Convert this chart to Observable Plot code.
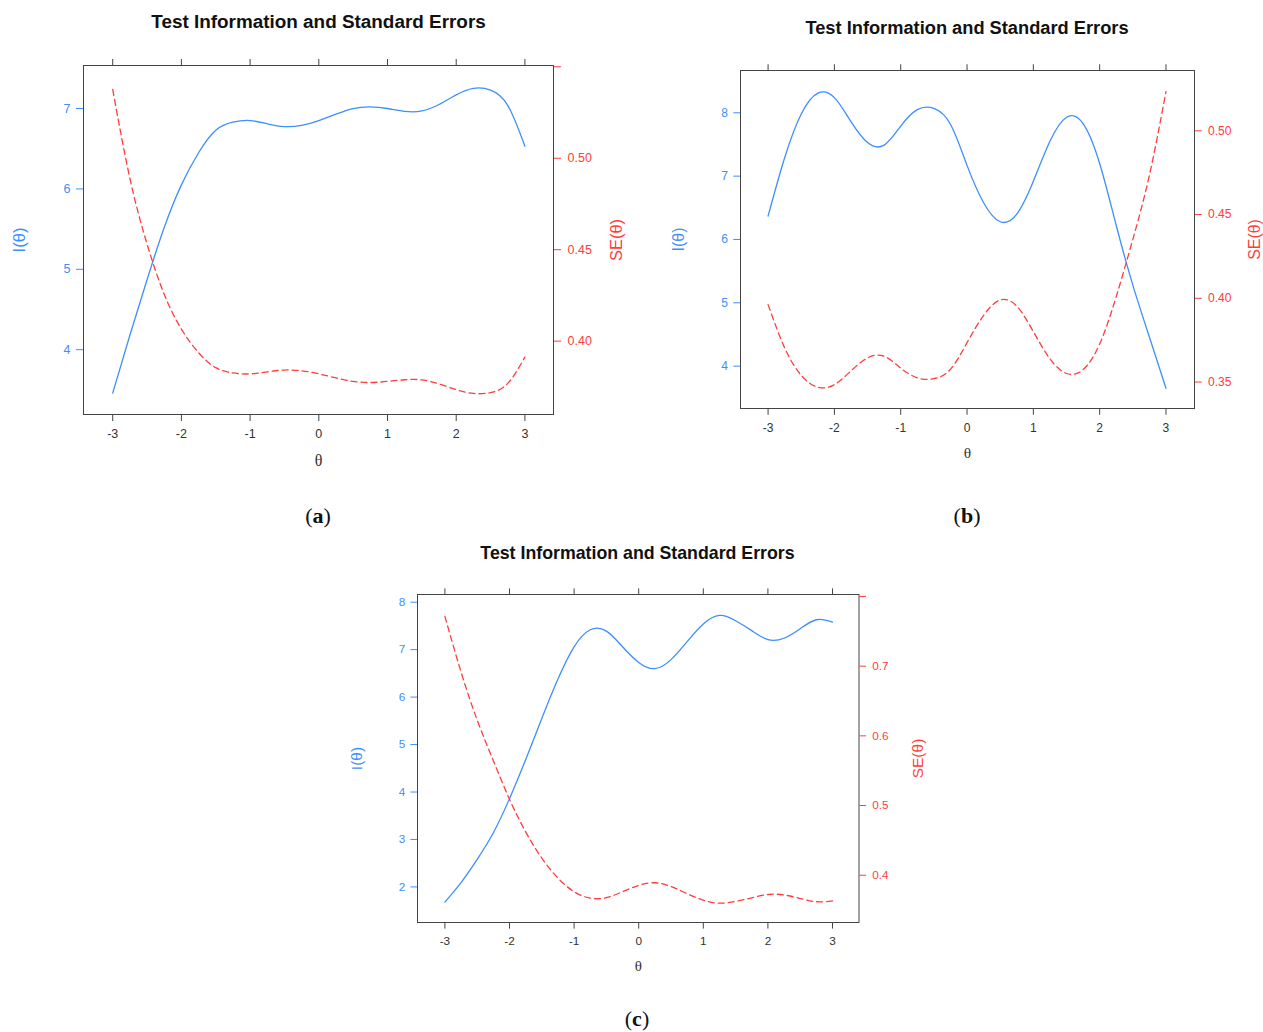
<!DOCTYPE html>
<html>
<head>
<meta charset="utf-8">
<script src="https://cdn.jsdelivr.net/npm/d3@7"></script>
<script src="https://cdn.jsdelivr.net/npm/@observablehq/plot@0.6"></script>
<style>
  body { margin: 0; background: #fff; }
  #root { position: relative; width: 1263px; height: 1032px; overflow: hidden; background: #fff; font-family: "Liberation Sans", Arial, sans-serif; }
  .title { position: absolute; font-weight: bold; transform: translate(-50%, -50%); white-space: nowrap; color: #111; }
  .tag { position: absolute; font-family: "Liberation Serif", "DejaVu Serif", serif; font-size: 22px; transform: translate(-50%, -50%); color: #111; }
  .layer { position: absolute; }
</style>
</head>
<body>
<div id="root"></div>
<script>
// ---------- data ----------
const theta = [-3, -2.75, -2.5, -2.25, -2, -1.75, -1.5, -1.25, -1, -0.75, -0.5, -0.25, 0,
               0.25, 0.5, 0.75, 1, 1.25, 1.5, 1.75, 2, 2.25, 2.5, 2.75, 3];

// panel (a)
const infoA = [3.46, 4.18, 4.87, 5.52, 6.05, 6.45, 6.73, 6.83, 6.85, 6.81, 6.775, 6.79, 6.85,
               6.93, 7.00, 7.02, 7.00, 6.965, 6.97, 7.05, 7.17, 7.25, 7.23, 7.04, 6.53];
const seA   = [0.5376, 0.4891, 0.4531, 0.4256, 0.4066, 0.3937, 0.3855, 0.3826, 0.3821, 0.3832, 0.3842, 0.3838, 0.3821,
               0.3799, 0.3780, 0.3774, 0.3780, 0.3789, 0.3788, 0.3766, 0.3735, 0.3714, 0.3719, 0.3769, 0.3913];

// panel (b)
const infoB = [6.37, 7.29, 7.98, 8.31, 8.24, 7.86, 7.53, 7.49, 7.79, 8.05, 8.07, 7.82, 7.17,
               6.58, 6.28, 6.40, 6.92, 7.55, 7.93, 7.83, 7.20, 6.22, 5.28, 4.46, 3.65];
const seB   = [0.3962, 0.3704, 0.3540, 0.3469, 0.3484, 0.3567, 0.3644, 0.3654, 0.3583, 0.3525, 0.3520, 0.3576, 0.3735,
               0.3898, 0.3990, 0.3953, 0.3801, 0.3639, 0.3551, 0.3574, 0.3727, 0.4010, 0.4352, 0.4735, 0.5234];

// panel (c)
const infoC = [1.68, 2.09, 2.58, 3.14, 3.86, 4.68, 5.55, 6.38, 7.06, 7.42, 7.39, 7.06, 6.73,
               6.60, 6.79, 7.17, 7.54, 7.72, 7.61, 7.40, 7.21, 7.24, 7.44, 7.63, 7.58];
const seC   = [0.7715, 0.6917, 0.6226, 0.5643, 0.5090, 0.4623, 0.4245, 0.3959, 0.3764, 0.3671, 0.3679, 0.3764, 0.3855,
               0.3892, 0.3838, 0.3735, 0.3642, 0.3599, 0.3625, 0.3676, 0.3724, 0.3717, 0.3666, 0.3620, 0.3632];

// ticks / labels
const xTicks = [-3, -2, -1, 0, 1, 2, 3];
const infoTicksA = [4, 5, 6, 7];
const seTicksA = [0.40, 0.45, 0.50, 0.55];
const infoTicksB = [4, 5, 6, 7, 8];
const seTicksB = [0.35, 0.40, 0.45, 0.50];
const infoTicksC = [2, 3, 4, 5, 6, 7, 8];
const seTicksC = [0.4, 0.5, 0.6, 0.7, 0.8];
const titleText = "Test Information and Standard Errors";
const xLabel = "θ";
const infoLabel = "I(θ)";
const seLabel = "SE(θ)";
const tags = ["a", "b", "c"];

// ---------- styling / layout ----------
const BLUE = "#3d8eff";
const RED = "#ff3d3d";
const FRAME = "#444";

const panels = [
  { info: infoA, se: seA, infoTicks: infoTicksA, seTicks: seTicksA,
    L: 83, R: 553, T: 65, B: 414, s: 1,
    xDomain: [-3.425, 3.416], infoDomain: [3.194, 7.535], seDomain: [0.3599, 0.5507],
    seFmt: d => d > 0.54 ? "" : d.toFixed(2),
    titleX: 318.5, titleY: 22, tagX: 318, tagY: 516, tag: tags[0] },
  { info: infoB, se: seB, infoTicks: infoTicksB, seTicks: seTicksB,
    L: 740, R: 1194, T: 70, B: 408, s: 0.966,
    xDomain: [-3.416, 3.43], infoDomain: [3.331, 8.668], seDomain: [0.3342, 0.536],
    seFmt: d => d.toFixed(2),
    titleX: 967, titleY: 28, tagX: 967, tagY: 516, tag: tags[1] },
  { info: infoC, se: seC, infoTicks: infoTicksC, seTicks: seTicksC,
    L: 416.5, R: 858, T: 594, B: 922, s: 0.94,
    xDomain: [-3.424, 3.41], infoDomain: [1.25, 8.162], seDomain: [0.3322, 0.8028],
    seFmt: d => d > 0.79 ? "" : d.toFixed(1),
    titleX: 637.5, titleY: 553, tagX: 637, tagY: 1019, tag: tags[2] }
];

const root = document.getElementById("root");
const plain = d => String(d);

for (const p of panels) {
  const s = p.s;
  const mL = 80, mT = 20, mB = 62;
  const mR = Math.min(75, 1263 - p.R);
  const W = (p.R - p.L) + mL + mR;
  const H = (p.B - p.T) + mT + mB;
  const rows = theta.map((t, i) => ({ theta: t, info: p.info[i], se: p.se[i] }));
  const baseStyle = {
    background: "transparent",
    fontFamily: "'Liberation Sans', Arial, sans-serif",
    fontSize: `${12.5 * s}px`,
    overflow: "visible",
    maxWidth: "none"
  };

  const infoPlot = Plot.plot({
    width: W, height: H,
    marginLeft: mL, marginRight: mR, marginTop: mT, marginBottom: mB,
    x: { domain: p.xDomain, label: null },
    y: { domain: p.infoDomain, label: null },
    style: baseStyle,
    marks: [
      Plot.frame({ stroke: FRAME, strokeWidth: 1 }),
      Plot.axisX(xTicks, { anchor: "bottom", tickSize: 7 * s, tickPadding: 8 * s, stroke: FRAME, fill: "#333", color: "#333", tickFormat: plain, label: null }),
      Plot.axisX(xTicks, { anchor: "top", tickSize: 7 * s, tickFormat: () => "", stroke: FRAME, label: null }),
      Plot.axisY(p.infoTicks, { anchor: "left", tickSize: 7 * s, tickPadding: 6 * s, color: BLUE, stroke: BLUE, fill: BLUE, tickFormat: plain, label: null }),
      Plot.line(rows, { x: "theta", y: "info", stroke: BLUE, strokeWidth: 1.3, curve: "natural" }),
      Plot.text([infoLabel], { frameAnchor: "left", textAnchor: "middle", lineAnchor: "middle", dx: -64 * s, rotate: -90, fill: BLUE, fontSize: 16.5 * s }),
      Plot.text([xLabel], { frameAnchor: "bottom", textAnchor: "middle", lineAnchor: "middle", dy: 46 * s, fill: "#333", fontSize: 16 * s, fontFamily: "'Liberation Serif', 'DejaVu Serif', serif" })
    ]
  });

  const sePlot = Plot.plot({
    width: W, height: H,
    marginLeft: mL, marginRight: mR, marginTop: mT, marginBottom: mB,
    x: { domain: p.xDomain, label: null, axis: null },
    y: { domain: p.seDomain, label: null },
    style: baseStyle,
    marks: [
      Plot.axisY(p.seTicks, { anchor: "right", tickSize: 7 * s, tickPadding: 7 * s, color: RED, stroke: RED, fill: RED, tickFormat: p.seFmt, label: null }),
      Plot.line(rows, { x: "theta", y: "se", stroke: RED, strokeWidth: 1.3, strokeDasharray: "6,4", curve: "natural" }),
      Plot.text([seLabel], { frameAnchor: "right", textAnchor: "middle", lineAnchor: "middle", dx: 63 * s, rotate: -90, fill: RED, fontSize: 16.5 * s })
    ]
  });

  for (const svg of [infoPlot, sePlot]) {
    svg.classList.add("layer");
    svg.style.left = `${p.L - mL}px`;
    svg.style.top = `${p.T - mT}px`;
    root.appendChild(svg);
  }

  const title = document.createElement("div");
  title.className = "title";
  title.textContent = titleText;
  title.style.left = `${p.titleX}px`;
  title.style.top = `${p.titleY}px`;
  title.style.fontSize = `${18.9 * s}px`;
  root.appendChild(title);

  const tag = document.createElement("div");
  tag.className = "tag";
  tag.innerHTML = `(<b>${p.tag}</b>)`;
  tag.style.left = `${p.tagX}px`;
  tag.style.top = `${p.tagY}px`;
  root.appendChild(tag);
}
</script>
</body>
</html>
